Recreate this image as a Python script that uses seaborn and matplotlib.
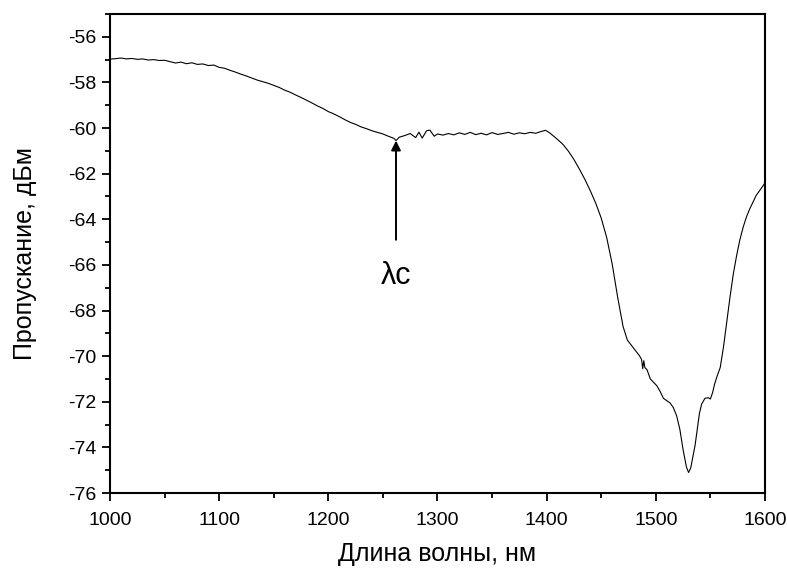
import matplotlib
matplotlib.use("Agg")
import matplotlib.pyplot as plt
from matplotlib.ticker import MultipleLocator
import seaborn as sns
import pandas as pd

# Transmission spectrum of the fibre sample
wavelength_nm = [
    1000, 1005, 1010, 1015, 1020, 1025, 1030, 1035, 1040, 1045,
    1050, 1055, 1060, 1065, 1070, 1075, 1080, 1085, 1090, 1095,
    1100, 1105, 1110, 1115, 1120, 1125, 1130, 1135, 1140, 1145,
    1150, 1155, 1160, 1165, 1170, 1175, 1180, 1185, 1190, 1195,
    1200, 1205, 1210, 1215, 1220, 1225, 1230, 1235, 1240, 1245,
    1250, 1255, 1260, 1262, 1265, 1270, 1275, 1280, 1283, 1286,
    1290, 1293, 1297, 1300, 1305, 1310, 1315, 1320, 1325, 1330,
    1335, 1340, 1345, 1350, 1355, 1360, 1365, 1370, 1375, 1380,
    1385, 1390, 1395, 1399, 1403, 1407, 1410, 1415, 1420, 1425,
    1430, 1435, 1440, 1445, 1450, 1455, 1460, 1465, 1470, 1474,
    1478, 1482, 1485, 1487, 1488, 1489, 1490, 1492, 1495, 1498,
    1501, 1504, 1507, 1510, 1513, 1516, 1519, 1522, 1525, 1528,
    1530, 1532, 1534, 1536, 1538, 1540, 1542, 1545, 1548, 1550,
    1552, 1554, 1556, 1559, 1562, 1565, 1568, 1571, 1574, 1577,
    1580, 1583, 1586, 1589, 1592, 1595, 1598, 1600,
]
transmission_dbm = [
    -56.98, -56.96, -56.93, -56.97, -56.95, -56.99, -56.97, -57.02, -57.00, -57.04,
    -57.03, -57.09, -57.15, -57.11, -57.18, -57.14, -57.21, -57.19, -57.26, -57.24,
    -57.34, -57.38, -57.47, -57.55, -57.64, -57.72, -57.81, -57.90, -57.97, -58.04,
    -58.13, -58.22, -58.34, -58.43, -58.55, -58.66, -58.78, -58.90, -59.03, -59.14,
    -59.28, -59.38, -59.50, -59.63, -59.75, -59.84, -59.95, -60.03, -60.12, -60.19,
    -60.26, -60.36, -60.45, -60.55, -60.40, -60.33, -60.24, -60.42, -60.18, -60.44,
    -60.12, -60.09, -60.36, -60.26, -60.31, -60.24, -60.30, -60.21, -60.28, -60.19,
    -60.29, -60.23, -60.30, -60.20, -60.28, -60.24, -60.19, -60.27, -60.21, -60.25,
    -60.19, -60.23, -60.15, -60.10, -60.22, -60.38, -60.50, -60.72, -61.02, -61.38,
    -61.80, -62.25, -62.75, -63.30, -63.95, -64.80, -65.95, -67.40, -68.70, -69.30,
    -69.55, -69.80, -69.98, -70.15, -70.55, -70.20, -70.50, -70.60, -71.00, -71.15,
    -71.30, -71.55, -71.85, -71.95, -72.05, -72.25, -72.60, -73.20, -74.10, -74.85,
    -75.10, -74.90, -74.40, -73.90, -73.20, -72.50, -72.10, -71.85, -71.82, -71.88,
    -71.60, -71.20, -70.90, -70.50, -69.60, -68.50, -67.40, -66.40, -65.60, -64.90,
    -64.35, -63.90, -63.55, -63.25, -62.95, -62.75, -62.55, -62.40,
]

cutoff_nm = 1262
cutoff_dbm = -60.55
arrow_tail_dbm = -64.9

df = pd.DataFrame({"wavelength": wavelength_nm, "transmission": transmission_dbm})

sns.set_style("ticks")
plt.rcParams["font.family"] = ["Liberation Sans", "DejaVu Sans"]
plt.rcParams["axes.unicode_minus"] = False
plt.rcParams["text.color"] = "black"
plt.rcParams["axes.labelcolor"] = "black"

fig = plt.figure(figsize=(7.87, 5.68), dpi=100)
ax = fig.add_axes([0.1398, 0.132, 0.8322, 0.8434])

sns.lineplot(data=df, x="wavelength", y="transmission", ax=ax,
             color="black", linewidth=0.8, estimator=None, sort=False)

ax.set_xlim(1000, 1600)
ax.set_ylim(-76, -55)
ax.xaxis.set_major_locator(MultipleLocator(100))
ax.xaxis.set_minor_locator(MultipleLocator(50))
ax.yaxis.set_major_locator(MultipleLocator(2))
ax.yaxis.set_minor_locator(MultipleLocator(1))

ax.tick_params(which="major", direction="out", length=6, width=1.3,
               labelsize=14, colors="black", top=False, right=False, pad=4)
ax.tick_params(axis="x", which="major", pad=8)
ax.tick_params(which="minor", direction="out", length=3.5, width=1.3,
               colors="black", top=False, right=False)
for side in ax.spines.values():
    side.set_linewidth(1.5)
    side.set_color("black")

ax.set_xlabel("Длина волны, нм", fontsize=18, labelpad=9)
ax.set_ylabel("Пропускание, дБм", fontsize=18, labelpad=22)

ax.annotate("", xy=(cutoff_nm, cutoff_dbm), xytext=(cutoff_nm, arrow_tail_dbm),
            arrowprops=dict(arrowstyle="-|>", color="black", lw=1.4,
                            mutation_scale=14, shrinkA=0, shrinkB=0))
ax.text(cutoff_nm, -66.5, "λc", fontsize=22, ha="center", va="center")

fig.savefig("out.png", dpi=100)
